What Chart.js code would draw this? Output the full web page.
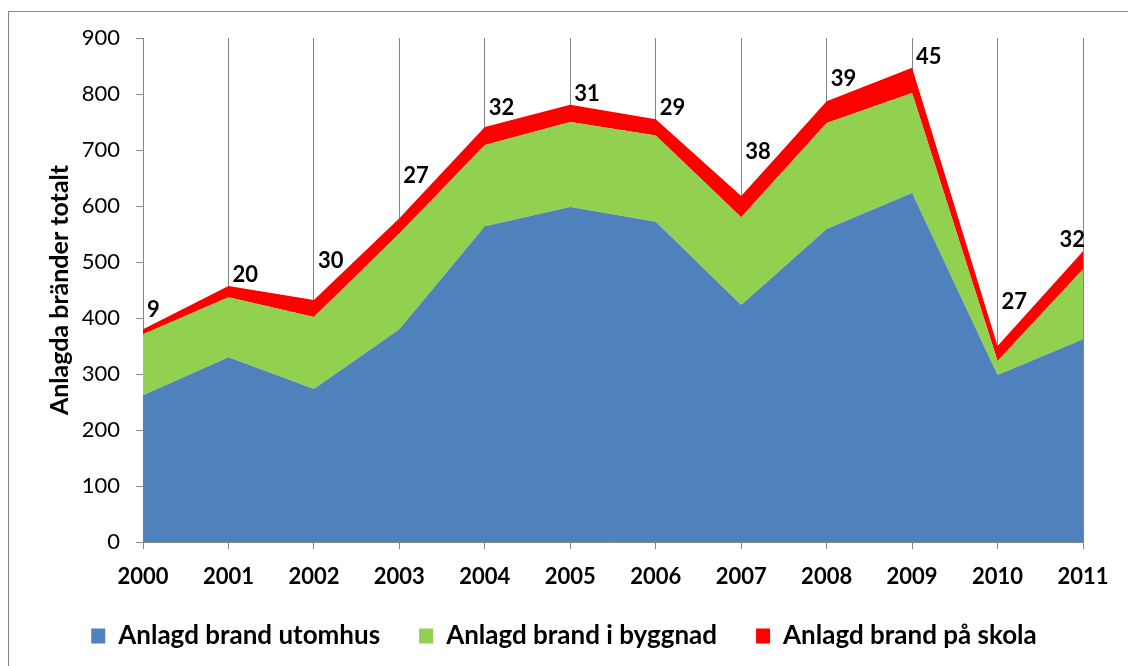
<!DOCTYPE html>
<html>
<head>
<meta charset="utf-8">
<script src="https://cdn.jsdelivr.net/npm/chart.js@4.4.1/dist/chart.umd.min.js"></script>
<style>
  html, body { margin: 0; padding: 0; background: #fff; }
  #frame { position: absolute; left: 8px; top: 11px; width: 1200px; height: 700px;
           border-left: 1px solid #868686; border-top: 1px solid #868686; }
  #wrap { position: absolute; left: 0; top: 0; width: 1128px; height: 666px; }
</style>
</head>
<body>
<div id="frame"></div>
<div id="wrap"><canvas id="chart"></canvas></div>
<script>
// Data
const years = ['2000', '2001', '2002', '2003', '2004', '2005', '2006', '2007', '2008', '2009', '2010', '2011'];
const utomhus = [262, 330, 273, 380, 564, 598, 572, 423, 559, 623, 298, 362];
const byggnad = [109, 107, 129, 171, 145, 152, 154, 157, 189, 179, 25, 125];
const skola = [9, 20, 30, 27, 32, 31, 29, 38, 39, 45, 27, 32];

const seriesNames = ['Anlagd brand utomhus', 'Anlagd brand i byggnad', 'Anlagd brand på skola'];
const seriesColors = ['#4F81BD', '#92D050', '#FF0000'];

Chart.defaults.font.family = 'Lato';
Chart.defaults.color = '#000';

const gridGrey = '#868686';

// Value labels above the red (school) series
const skolaLabels = {
  id: 'skolaLabels',
  afterDatasetsDraw(chart) {
    const ctx = chart.ctx;
    const meta = chart.getDatasetMeta(2);
    const area = chart.chartArea;
    ctx.save();
    ctx.font = 'bold 22px Lato';
    ctx.fillStyle = '#000';
    ctx.textAlign = 'left';
    ctx.textBaseline = 'alphabetic';
    meta.data.forEach((pt, i) => {
      const text = String(skola[i]);
      const w = ctx.measureText(text).width;
      let x = Math.min(pt.x + 4, area.right + 2 - w);
      let bottom = pt.y;
      const next = meta.data[i + 1];
      if (next) {
        const lineY = pt.y + (next.y - pt.y) * (x + w - pt.x) / (next.x - pt.x);
        bottom = Math.min(bottom, lineY);
      }
      ctx.fillText(text, x, bottom - 4);
    });
    ctx.restore();
  }
};

new Chart(document.getElementById('chart').getContext('2d'), {
  type: 'line',
  data: {
    labels: years,
    datasets: [utomhus, byggnad, skola].map((values, i) => ({
      label: seriesNames[i],
      data: values,
      backgroundColor: seriesColors[i],
      borderColor: seriesColors[i],
      borderWidth: 0,
      pointRadius: 0,
      tension: 0,
      fill: i === 0 ? 'origin' : '-1'
    }))
  },
  options: {
    responsive: true,
    maintainAspectRatio: false,
    animation: false,
    layout: { padding: { top: 38, left: 45, right: 45, bottom: 7 } },
    plugins: {
      tooltip: { enabled: false },
      legend: {
        position: 'bottom',
        labels: {
          boxWidth: 14,
          boxHeight: 15,
          padding: 39,
          font: { size: 26, weight: 'bold' },
          color: '#000'
        }
      }
    },
    scales: {
      x: {
        offset: false,
        grid: { color: gridGrey, lineWidth: 1, drawTicks: true, tickLength: 7, tickColor: gridGrey },
        border: { color: gridGrey, width: 1 },
        ticks: { font: { size: 22, weight: 'bold' }, color: '#000', maxRotation: 0, padding: 15, autoSkip: false },
        afterFit(scale) { scale.height = 42; }
      },
      y: {
        stacked: true,
        min: 0,
        max: 900,
        grid: { drawOnChartArea: false, drawTicks: true, tickLength: 7, tickColor: gridGrey },
        border: { color: gridGrey, width: 1 },
        ticks: { stepSize: 100, font: { size: 22 }, color: '#000', padding: 16 },
        title: {
          display: true,
          text: 'Anlagda bränder totalt',
          font: { size: 25, weight: 'bold' },
          color: '#000',
          padding: { top: 0, bottom: 0 }
        },
        afterFit(scale) { scale.width = 98; }
      }
    }
  },
  plugins: [skolaLabels]
});
</script>
</body>
</html>
